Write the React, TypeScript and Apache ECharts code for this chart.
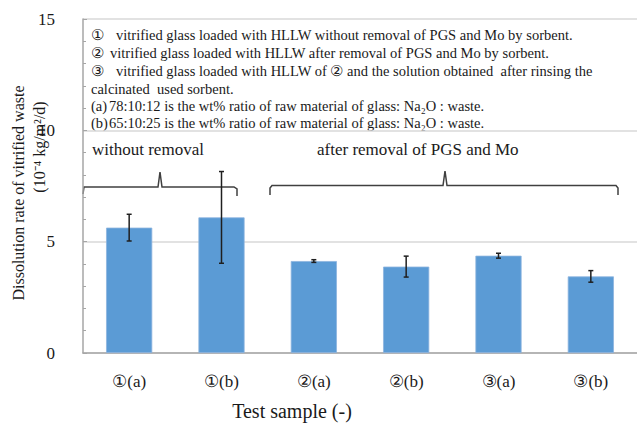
import React, { useEffect, useRef } from "react";
import * as echarts from "echarts";

const categories = ["①(a)", "①(b)", "②(a)", "②(b)", "③(a)", "③(b)"];
const rates = [5.63, 6.09, 4.13, 3.88, 4.37, 3.44];
const errors = [0.6, 2.06, 0.06, 0.47, 0.11, 0.26];
const yTicks = { min: 0, max: 15, interval: 5 };
const noteLines = [
  { mark: "①", text: "vitrified glass loaded with HLLW without removal of PGS and Mo by sorbent.", dx: 25 },
  { mark: "②", text: "vitrified glass loaded with HLLW after removal of PGS and Mo by sorbent.", dx: 19 },
  { mark: "③", text: "vitrified glass loaded with HLLW of ② and the solution obtained  after rinsing the", dx: 25 },
  { mark: "", text: "calcinated  used sorbent.", dx: 0 },
  { mark: "(a)", text: "78:10:12 is the wt% ratio of raw material of glass: Na₂O : waste.", dx: 18 },
  { mark: "(b)", text: "65:10:25 is the wt% ratio of raw material of glass: Na₂O : waste.", dx: 18 },
];
const groupLabels = ["without removal", "after removal of PGS and Mo"];

const SERIF = "Liberation Serif";
const INK = "#1a1a1a";

function txt(x: number, y: number, text: string, size: number, extra: any = {}) {
  return {
    type: "text",
    x,
    y,
    ...extra,
    style: {
      text,
      fontFamily: SERIF,
      fontSize: size,
      fill: INK,
      textVerticalAlign: "middle",
      ...(extra.style || {}),
    },
  };
}

export default function App() {
  const ref = useRef<HTMLDivElement>(null);
  useEffect(() => {
    if (!ref.current) return;
    const chart = echarts.init(ref.current, null, { renderer: "svg" });
    const errData = rates.map((v, i) => [i, v - errors[i], v + errors[i]]);
    const graphics: any[] = [];
    const ys = [35, 53, 71, 88.5, 106, 123];
    noteLines.forEach((l, i) => {
      if (l.mark) graphics.push(txt(91, ys[i], l.mark, 14.5));
      graphics.push(txt(91 + l.dx, ys[i], l.text, 14.5));
    });
    graphics.push(
      txt(92, 149, groupLabels[0], 17),
      txt(317, 149, groupLabels[1], 17),
      {
        type: "polyline",
        shape: { points: [[83, 194], [84, 187], [158, 187], [160, 172], [162, 187], [234, 187], [237, 189], [237, 196]] },
        style: { stroke: "#404040", lineWidth: 1.5, fill: null },
      },
      {
        type: "polyline",
        shape: { points: [[270, 195], [270, 188], [272, 185.5], [443, 185.5], [445, 171], [447, 185.5], [616, 185.5], [618, 188], [618, 195]] },
        style: { stroke: "#404040", lineWidth: 1.5, fill: null },
      },
      txt(292, 411, "Test sample (-)", 20, { style: { textAlign: "center" } }),
      txt(18, 193, "Dissolution rate of vitrified waste", 16, { rotation: Math.PI / 2, style: { textAlign: "center" } }),
      txt(39, 147, "(10⁻⁴ kg/m²/d)", 16, { rotation: Math.PI / 2, style: { textAlign: "center" } })
    );
    chart.setOption({
      animation: false,
      backgroundColor: "#ffffff",
      grid: { left: 83, top: 19, width: 563, height: 334, containLabel: false },
      xAxis: {
        type: "category",
        data: categories,
        boundaryGap: true,
        axisLine: { lineStyle: { color: "#a6a6a6", width: 1.5 } },
        axisTick: { inside: true, length: 4, lineStyle: { color: "#a6a6a6" } },
        axisLabel: { fontFamily: SERIF, fontSize: 17, color: INK, margin: 20 },
      },
      yAxis: {
        type: "value",
        min: yTicks.min,
        max: yTicks.max,
        interval: yTicks.interval,
        axisLine: { show: true, lineStyle: { color: "#a6a6a6", width: 1.5 } },
        axisTick: { show: true, inside: true, length: 4, lineStyle: { color: "#a6a6a6" } },
        minorTick: { show: true, splitNumber: 5, length: 3, lineStyle: { color: "#a6a6a6" } },
        splitLine: { show: true, lineStyle: { color: "#d9d9d9", width: 1.5 } },
        axisLabel: { fontFamily: SERIF, fontSize: 17, color: INK, margin: 28 },
      },
      series: [
        {
          type: "bar",
          data: rates,
          barWidth: "50%",
          itemStyle: { color: "#5b9bd5", borderColor: "#8db4de", borderWidth: 0.8 },
        },
        {
          type: "custom",
          data: errData,
          z: 10,
          renderItem: (params: any, api: any) => {
            const i = api.value(0);
            const lo = api.coord([i, api.value(1)]);
            const hi = api.coord([i, api.value(2)]);
            const x = lo[0];
            const style = { stroke: "#1f1f1f", lineWidth: 1.5 };
            return {
              type: "group",
              children: [
                { type: "line", shape: { x1: x, y1: lo[1], x2: x, y2: hi[1] }, style },
                { type: "line", shape: { x1: x - 2.5, y1: lo[1], x2: x + 2.5, y2: lo[1] }, style },
                { type: "line", shape: { x1: x - 2.5, y1: hi[1], x2: x + 2.5, y2: hi[1] }, style },
              ],
            };
          },
        },
      ],
      graphic: graphics,
    });
    return () => chart.dispose();
  }, []);
  return <div ref={ref} style={{ width: 637, height: 423, position: "absolute", left: 0, top: 0 }} />;
}
